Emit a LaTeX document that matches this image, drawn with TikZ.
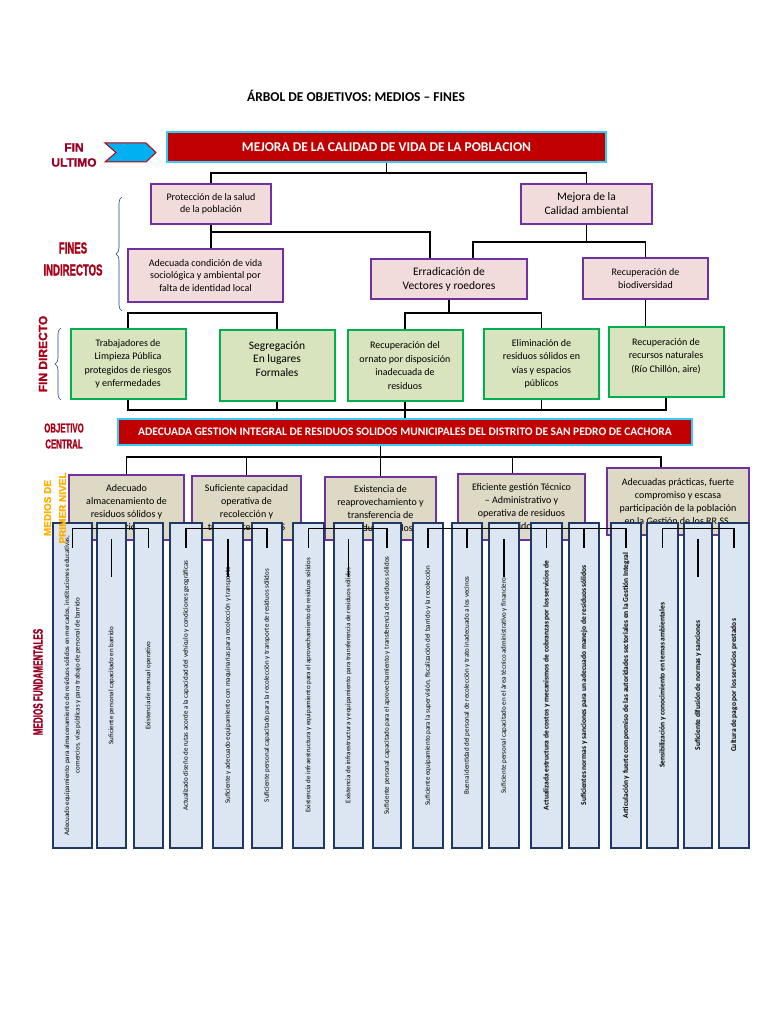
\documentclass[tikz,border=0pt]{standalone}
\usepackage{fontspec}
\setmainfont{Carlito}
\newfontfamily\fuenteetiqueta[FakeBold=1.5]{Liberation Sans Bold}
\newfontfamily\fuenteangosta[FakeStretch=0.6,FakeBold=1]{Liberation Sans Bold}
\usepackage{tikz}
\usetikzlibrary{positioning,calc,decorations.pathreplacing}
\usepackage{xcolor}
\definecolor{rojo}{HTML}{C00000}
\definecolor{celeste}{HTML}{33CCFF}
\definecolor{rosa}{HTML}{F2DCDB}
\definecolor{morado}{HTML}{7030A0}
\definecolor{verdeclaro}{HTML}{D7E4BD}
\definecolor{verde}{HTML}{00B050}
\definecolor{beige}{HTML}{DDD9C4}
\definecolor{azulclaro}{HTML}{DCE6F2}
\definecolor{azul}{HTML}{1F3864}
\definecolor{azulllave}{HTML}{1F497D}
\definecolor{granate}{HTML}{9A0025}
\definecolor{rojoetiqueta}{HTML}{A80018}
\definecolor{naranja}{HTML}{FFB000}
\definecolor{flechaazul}{HTML}{00B0F0}

\begin{document}
\begin{tikzpicture}[x=1pt, y=-1pt,
    fin/.style={rectangle, draw=morado, line width=2pt, fill=rosa, align=center, inner sep=2pt, font=\fontsize{10}{12.5}\selectfont},
    directo/.style={rectangle, draw=verde, line width=2pt, fill=verdeclaro, align=center, inner sep=2pt, minimum width=115pt, minimum height=70pt, font=\fontsize{10}{13.5}\selectfont},
    central/.style={rectangle, draw=celeste, line width=2pt, fill=rojo, text=white, align=center},
    medio/.style={rectangle, draw=morado, line width=2pt, fill=beige, align=center, inner sep=2pt, font=\fontsize{10}{13}\selectfont},
    base/.style={rectangle, draw=azul, line width=2.5pt, fill=azulclaro, rotate=90, minimum width=325pt, align=center, inner sep=1pt, font=\fontsize{7}{10.5}\selectfont},
    basenegrita/.style={base, font=\bfseries\fontsize{7.5}{10}\selectfont},
    linea/.style={draw=black, line width=1.3pt},
    llave/.style={draw=azulllave, line width=0.6pt, decorate, decoration={brace, amplitude=6pt}},
    etiqueta/.style={align=center, text=granate, font=\fuenteetiqueta}
]
    \fill[white] (0,0) rectangle (768,1024);
    \useasboundingbox (0,0) rectangle (768,1024);

    \node[font=\bfseries\fontsize{13.5}{16}\selectfont] (titulo) at (356,96) {ÁRBOL DE OBJETIVOS: MEDIOS – FINES};

    % Fin ultimo
    \node[central, minimum width=439pt, minimum height=30pt, font=\bfseries\fontsize{13.5}{16}\selectfont] (ultimo) at (386.5,147) {MEJORA DE LA CALIDAD DE VIDA DE LA POBLACION};
    \draw[draw=rojo, line width=1pt, fill=flechaazul] (105,143) -- (146,143) -- (156,152.5) -- (146,162) -- (105,162) -- (116,152.5) -- cycle;
    \node[etiqueta, font=\fuenteetiqueta\fontsize{12}{15}\selectfont] (finultimo) at (74,155) {FIN\\ULTIMO};

    % Fines indirectos
    \node[fin, minimum width=120pt, minimum height=40pt] (proteccion) at (211,204) {Protección de la salud\\de la población};
    \node[fin, minimum width=131pt, minimum height=40pt, font=\fontsize{11.5}{14}\selectfont] (mejora) at (586.5,204) {Mejora de la\\Calidad ambiental};
    \node[fin, minimum width=155pt, minimum height=53pt] (adecuada) at (205.5,275.5) {Adecuada condición de vida\\sociológica y ambiental por\\falta de identidad local};
    \node[fin, minimum width=156pt, minimum height=40pt, font=\fontsize{11.5}{14}\selectfont] (erradicacion) at (449,279) {Erradicación de\\Vectores y roedores};
    \node[fin, minimum width=125pt, minimum height=41pt] (biodiversidad) at (645.5,278.5) {Recuperación de\\biodiversidad};

    \draw[linea] (ultimo.south) -- ++(0,10) coordinate (u1) -| (proteccion.north);
    \draw[linea] (u1) -| (mejora.north);
    \draw[linea] (proteccion.south) -- (proteccion.south |- adecuada.north);
    \draw[linea] ([yshift=-7pt]proteccion.south) -| ([xshift=-19pt]erradicacion.north);
    \draw[linea] (mejora.south) -- ++(0,17) coordinate (m1) -| ([xshift=24pt]erradicacion.north);
    \draw[linea] (m1) -| (biodiversidad.north);

    \draw[llave] (122,311) -- (122,197);
    \node[etiqueta, text=rojoetiqueta, font=\fuenteangosta\fontsize{16}{22}\selectfont] (finesindirectos) at (73,259) {FINES\\INDIRECTOS};

    % Fin directo
    \node[directo] (trabajadores) at (128,364) {Trabajadores de\\Limpieza Pública\\protegidos de riesgos\\y enfermedades};
    \node[directo, minimum height=71pt, font=\fontsize{11.5}{13.5}\selectfont] (segregacion) at (277,365.5) {Segregación\\En lugares\\Formales\\~};
    \node[directo, minimum height=71pt] (ornato) at (405,365.5) {Recuperación del\\ornato por disposición\\inadecuada de\\residuos};
    \node[directo] (eliminacion) at (541.5,364) {Eliminación de\\residuos sólidos en\\vías y espacios\\públicos};
    \node[directo] (recursos) at (666,362) {Recuperación de\\recursos naturales\\(Río Chillón, aire)\\~};

    \draw[linea] (trabajadores.north) -- ++(0,-15) -| (segregacion.north);
    \draw[linea] (erradicacion.south) -- ++(0,13) coordinate (e1) -| (ornato.north);
    \draw[linea] (e1) -| (eliminacion.north);
    \draw[linea] (biodiversidad.south) -- (biodiversidad.south |- recursos.north);

    \draw[llave] (61,400) -- (61,328);
    \node[etiqueta, rotate=90, text=rojoetiqueta, font=\fuenteetiqueta\fontsize{12}{15}\selectfont] (findirecto) at (43,354) {FIN DIRECTO};

    % Objetivo central
    \node[central, minimum width=574pt, minimum height=26pt, font=\bfseries\fontsize{11.5}{13}\selectfont] (objetivo) at (405,432) {ADECUADA GESTION INTEGRAL DE RESIDUOS SOLIDOS MUNICIPALES DEL DISTRITO DE SAN PEDRO DE CACHORA};
    \coordinate (h1) at (0,410);
    \draw[linea] (trabajadores.south) -- (trabajadores.south |- h1) -| (recursos.south);
    \draw[linea] (segregacion.south) -- (segregacion.south |- h1);
    \draw[linea] (eliminacion.south) -- (eliminacion.south |- h1);
    \draw[linea] (ornato.south) -- (objetivo.north);
    \node[etiqueta, text=rojoetiqueta, font=\fuenteangosta\fontsize{13}{16}\selectfont] (objcentral) at (64,436) {OBJETIVO\\CENTRAL};

    % Medios de primer nivel
    \node[medio, minimum width=115pt, minimum height=65pt] (medio1) at (126.5,507.5) {Adecuado\\almacenamiento de\\residuos sólidos y\\barrido};
    \node[medio, minimum width=109pt, minimum height=64pt] (medio2) at (246.5,508) {Suficiente capacidad\\operativa de\\recolección y\\transporte de RRSS};
    \node[medio, minimum width=111pt, minimum height=63pt] (medio3) at (380.5,508.5) {Existencia de\\reaprovechamiento y\\transferencia de\\residuos sólidos};
    \node[medio, minimum width=127pt, minimum height=66pt] (medio4) at (521.5,507) {Eficiente gestión Técnico\\– Administrativo y\\operativa de residuos\\sólidos};
    \node[medio, minimum width=142pt, minimum height=67pt] (medio5) at (678,501.5) {Adecuadas prácticas, fuerte\\compromiso y escasa\\participación de la población\\en la Gestión de los RR.SS.};

    \coordinate (h2) at (0,457);
    \draw[linea] (objetivo.south -| medio3.north) -- (medio3.north);
    \draw[linea] (medio1.north) -- (medio1.north |- h2) -| ([xshift=-17pt]medio5.north);
    \draw[linea] (medio2.north) -- (medio2.north |- h2);
    \draw[linea] ([xshift=-9pt]medio4.north) -- ([xshift=-9pt]medio4.north |- h2);

    % Medios fundamentales
    \node[base, minimum height=39pt] (b1) at (72.5,685.5) {Adecuado equipamiento para almacenamiento de residuos sólidos en mercados, instituciones educativas,\\comercios, vías públicas y para trabajo de personal de barrido};
    \node[base, minimum height=29pt] (b2) at (111.5,685.5) {Suficiente personal capacitado en barrido};
    \node[base, minimum height=29pt] (b3) at (148.5,685.5) {Existencia de manual operativo};
    \node[base, minimum height=32pt] (b4) at (186,685.5) {Actualizado diseño de rutas acorde a la capacidad del vehículo y condiciones geográficas};
    \node[base, minimum height=30pt] (b5) at (228,685.5) {Suficiente y adecuado equipamiento con maquinarias para recolección y transporte};
    \node[base, minimum height=30pt] (b6) at (267,685.5) {Suficiente personal capacitado para la recolección y transporte de residuos sólidos};
    \node[base, minimum height=31pt] (b7) at (308.5,685.5) {Existencia de infraestructura y equipamiento para el aprovechamiento de residuos sólidos};
    \node[base, minimum height=29pt] (b8) at (348.5,685.5) {Existencia de infraestructura y equipamiento para transferencia de residuos sólidos};
    \node[base, minimum height=28pt] (b9) at (387,685.5) {Suficiente personal capacitado para el aprovechamiento y transferencia de residuos sólidos};
    \node[base, minimum height=30pt] (b10) at (428,685.5) {Suficiente equipamiento para la supervisión, fiscalización del barrido y la recolección};
    \node[base, minimum height=30pt] (b11) at (467,685.5) {Buena identidad del personal de recolección y trato inadecuado a los vecinos};
    \node[base, minimum height=30pt] (b12) at (504,685.5) {Suficiente personal capacitado en el área técnico administrativo y financiero};
    \node[basenegrita, minimum height=31pt] (b13) at (546.5,685.5) {Actualizada estructura de costos y mecanismos de cobranzas por los servicios de};
    \node[basenegrita, minimum height=30pt] (b14) at (584,685.5) {Suficientes normas y sanciones para un adecuado manejo de residuos sólidos};
    \node[basenegrita, minimum height=30pt] (b15) at (626,685.5) {Articulación y fuerte compromiso de las autoridades sectoriales en la Gestión Integral};
    \node[basenegrita, minimum height=31pt] (b16) at (662.5,685.5) {Sensibilización y conocimiento en temas ambientales};
    \node[basenegrita, minimum height=28pt] (b17) at (698,685.5) {Suficiente difusión de normas y sanciones};
    \node[basenegrita, minimum height=30pt] (b18) at (734,685.5) {Cultura de pago por los servicios prestados};

    \draw[linea] ([yshift=-26pt]b1.east) |- ([yshift=-7pt]b3.east) -- ([yshift=-26pt]b3.east);
    \draw[linea] ([yshift=-17pt]b2.east) -- ([yshift=-55pt]b2.east);
    \draw[linea] ([yshift=-26pt]b4.east) |- ([yshift=-7pt]b6.east) -- ([yshift=-26pt]b6.east);
    \draw[linea] ([yshift=-17pt]b5.east) -- ([yshift=-55pt]b5.east);
    \draw[linea] ([yshift=-26pt]b7.east) |- ([yshift=-7pt]b9.east) -- ([yshift=-26pt]b9.east);
    \draw[linea] ([yshift=-17pt]b8.east) -- ([yshift=-55pt]b8.east);
    \draw[linea] ([yshift=-26pt]b10.east) |- ([yshift=-7pt]b15.east) -- ([yshift=-26pt]b15.east);
    \draw[linea] ([yshift=-7pt]b11.east) -- ([yshift=-26pt]b11.east);
    \draw[linea] ([yshift=-7pt]b13.east) -- ([yshift=-26pt]b13.east);
    \draw[linea] ([yshift=-7pt]b14.east) -- ([yshift=-26pt]b14.east);
    \draw[linea] ([yshift=-17pt]b12.east) -- ([yshift=-55pt]b12.east);
    \draw[linea] ([yshift=-26pt]b16.east) |- ([yshift=-7pt]b18.east) -- ([yshift=-26pt]b18.east);
    \draw[linea] ([yshift=-17pt]b17.east) -- ([yshift=-55pt]b17.east);

    \node[etiqueta, rotate=90, text=naranja, font=\fuenteetiqueta\fontsize{10}{15}\selectfont] (mediosprimer) at (55,508) {MEDIOS DE\\PRIMER NIVEL};
    \node[etiqueta, rotate=90, text=granate, font=\fuenteangosta\fontsize{13.5}{16}\selectfont] (mediosfund) at (38,682) {MEDIOS FUNDAMENTALES};
\end{tikzpicture}
\end{document}
